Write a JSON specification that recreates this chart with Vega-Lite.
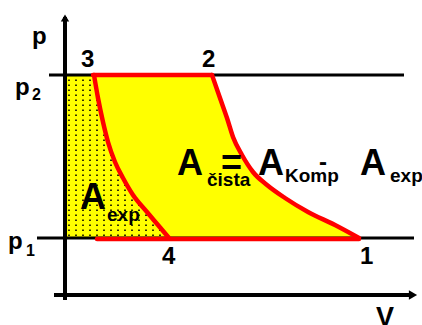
{
  "$schema": "https://vega.github.io/schema/vega-lite/v6.json",
  "width": 422,
  "height": 325,
  "padding": 0,
  "autosize": {"type": "none"},
  "background": "white",
  "config": {"view": {"stroke": null}},
  "datasets": {
    "c21": [
      {"p": 220, "V": 147},
      {"p": 197, "V": 155},
      {"p": 177, "V": 162},
      {"p": 158, "V": 168},
      {"p": 140, "V": 177},
      {"p": 123, "V": 188},
      {"p": 110, "V": 202},
      {"p": 97, "V": 220},
      {"p": 83, "V": 243},
      {"p": 70, "V": 270},
      {"p": 57, "V": 294}
    ],
    "c34": [
      {"p": 220, "V": 29},
      {"p": 197, "V": 33},
      {"p": 173, "V": 38},
      {"p": 153, "V": 43},
      {"p": 133, "V": 50},
      {"p": 117, "V": 58},
      {"p": 100, "V": 68},
      {"p": 83, "V": 82},
      {"p": 70, "V": 93},
      {"p": 57, "V": 104}
    ],
    "dots": [
      {"V": 4, "top": 218, "bottom": 59}, {"V": 11, "top": 218, "bottom": 59}, {"V": 18, "top": 218, "bottom": 59}, {"V": 25, "top": 217, "bottom": 59},
      {"V": 32, "top": 203, "bottom": 59}, {"V": 39, "top": 166, "bottom": 59}, {"V": 46, "top": 142, "bottom": 59}, {"V": 53, "top": 124, "bottom": 59},
      {"V": 60, "top": 110, "bottom": 59}, {"V": 67, "top": 99, "bottom": 59}, {"V": 74, "top": 90, "bottom": 59}, {"V": 81, "top": 81, "bottom": 59},
      {"V": 88, "top": 73, "bottom": 59}, {"V": 95, "top": 65, "bottom": 59}
    ],
    "lines": [
      {"name": "axis", "v1": 0, "v2": 0, "p1": -5, "p2": 278},
      {"name": "axis", "v1": -11, "v2": 347, "p1": 0, "p2": 0},
      {"name": "level", "v1": -16, "v2": 339, "p1": 220, "p2": 220},
      {"name": "level", "v1": -28, "v2": 349, "p1": 57, "p2": 57},
      {"name": "red", "v1": 28, "v2": 147, "p1": 220, "p2": 220},
      {"name": "red", "v1": 32, "v2": 294, "p1": 56, "p2": 56}
    ],
    "arrows": [
      {"dir": "up", "V": 0, "p": 277},
      {"dir": "right", "V": 348, "p": 0}
    ],
    "labels": [
      {"text": "p", "V": -33, "p": 251, "kind": "num"},
      {"text": "3", "V": 16, "p": 228, "kind": "num"},
      {"text": "2", "V": 137, "p": 228, "kind": "num"},
      {"text": "4", "V": 97, "p": 31, "kind": "num"},
      {"text": "1", "V": 295, "p": 31, "kind": "num"},
      {"text": "V", "V": 311, "p": -31, "kind": "v"},
      {"text": "p", "V": -50, "p": 200, "kind": "num"},
      {"text": "2", "V": -33, "p": 195, "kind": "psub"},
      {"text": "p", "V": -57, "p": 46, "kind": "num"},
      {"text": "1", "V": -39, "p": 39, "kind": "psub"},
      {"text": "A", "V": 15, "p": 86, "kind": "big"},
      {"text": "exp", "V": 42, "p": 74, "kind": "sub"},
      {"text": "A", "V": 112, "p": 120, "kind": "big"},
      {"text": "=", "V": 156, "p": 120, "kind": "big"},
      {"text": "čista", "V": 142, "p": 109, "kind": "sub"},
      {"text": "A", "V": 193, "p": 120, "kind": "big"},
      {"text": "Komp", "V": 220, "p": 113, "kind": "sub"},
      {"text": "-", "V": 254, "p": 125, "kind": "num"},
      {"text": "A", "V": 295, "p": 120, "kind": "big"},
      {"text": "exp", "V": 325, "p": 113, "kind": "sub"}
    ]
  },
  "layer": [
    {
      "data": {"name": "c21"},
      "mark": {"type": "area", "orient": "horizontal", "color": "#ffff00", "interpolate": "monotone"},
      "encoding": {
        "y": {"field": "p", "type": "quantitative", "scale": {"domain": [-30, 295], "nice": false, "zero": false}, "axis": null},
        "x": {"field": "V", "type": "quantitative", "stack": "zero", "scale": {"domain": [-65, 357], "nice": false, "zero": false}, "axis": null}
      }
    },
    {
      "data": {"name": "dots"},
      "mark": {"type": "rule", "color": "black", "strokeWidth": 1.6, "strokeDash": [1.5, 3.5]},
      "encoding": {
        "x": {"field": "V", "type": "quantitative", "scale": {"domain": [-65, 357], "nice": false, "zero": false}, "axis": null},
        "y": {"field": "bottom", "type": "quantitative", "scale": {"domain": [-30, 295], "nice": false, "zero": false}, "axis": null},
        "y2": {"field": "top"}
      }
    },
    {
      "data": {"name": "lines"},
      "transform": [{"filter": "datum.name === 'level'"}],
      "mark": {"type": "rule", "color": "black", "strokeWidth": 3},
      "encoding": {
        "x": {"field": "v1", "type": "quantitative", "scale": {"domain": [-65, 357], "nice": false, "zero": false}, "axis": null},
        "x2": {"field": "v2"},
        "y": {"field": "p1", "type": "quantitative", "scale": {"domain": [-30, 295], "nice": false, "zero": false}, "axis": null},
        "y2": {"field": "p2"}
      }
    },
    {
      "data": {"name": "lines"},
      "transform": [{"filter": "datum.name === 'axis'"}],
      "mark": {"type": "rule", "color": "black", "strokeWidth": 4},
      "encoding": {
        "x": {"field": "v1", "type": "quantitative", "scale": {"domain": [-65, 357], "nice": false, "zero": false}, "axis": null},
        "x2": {"field": "v2"},
        "y": {"field": "p1", "type": "quantitative", "scale": {"domain": [-30, 295], "nice": false, "zero": false}, "axis": null},
        "y2": {"field": "p2"}
      }
    },
    {
      "data": {"name": "arrows"},
      "transform": [{"filter": "datum.dir === 'up'"}],
      "mark": {"type": "point", "shape": "triangle-up", "filled": true, "color": "black", "size": 70, "opacity": 1},
      "encoding": {
        "x": {"field": "V", "type": "quantitative", "scale": {"domain": [-65, 357], "nice": false, "zero": false}, "axis": null},
        "y": {"field": "p", "type": "quantitative", "scale": {"domain": [-30, 295], "nice": false, "zero": false}, "axis": null}
      }
    },
    {
      "data": {"name": "arrows"},
      "transform": [{"filter": "datum.dir === 'right'"}],
      "mark": {"type": "point", "shape": "triangle-right", "filled": true, "color": "black", "size": 90, "opacity": 1},
      "encoding": {
        "x": {"field": "V", "type": "quantitative", "scale": {"domain": [-65, 357], "nice": false, "zero": false}, "axis": null},
        "y": {"field": "p", "type": "quantitative", "scale": {"domain": [-30, 295], "nice": false, "zero": false}, "axis": null}
      }
    },
    {
      "data": {"name": "lines"},
      "transform": [{"filter": "datum.name === 'red'"}],
      "mark": {"type": "rule", "color": "#ff0000", "strokeWidth": 4.5, "strokeCap": "round"},
      "encoding": {
        "x": {"field": "v1", "type": "quantitative", "scale": {"domain": [-65, 357], "nice": false, "zero": false}, "axis": null},
        "x2": {"field": "v2"},
        "y": {"field": "p1", "type": "quantitative", "scale": {"domain": [-30, 295], "nice": false, "zero": false}, "axis": null},
        "y2": {"field": "p2"}
      }
    },
    {
      "data": {"name": "c34"},
      "mark": {"type": "line", "color": "#ff0000", "strokeWidth": 4.5, "strokeCap": "round", "strokeJoin": "round", "interpolate": "monotone"},
      "encoding": {
        "x": {"field": "V", "type": "quantitative", "scale": {"domain": [-65, 357], "nice": false, "zero": false}, "axis": null},
        "y": {"field": "p", "type": "quantitative", "scale": {"domain": [-30, 295], "nice": false, "zero": false}, "axis": null},
        "order": {"field": "p"}
      }
    },
    {
      "data": {"name": "c21"},
      "mark": {"type": "line", "color": "#ff0000", "strokeWidth": 4.5, "strokeCap": "round", "strokeJoin": "round", "interpolate": "monotone"},
      "encoding": {
        "x": {"field": "V", "type": "quantitative", "scale": {"domain": [-65, 357], "nice": false, "zero": false}, "axis": null},
        "y": {"field": "p", "type": "quantitative", "scale": {"domain": [-30, 295], "nice": false, "zero": false}, "axis": null},
        "order": {"field": "p"}
      }
    },
    {
      "data": {"name": "labels"},
      "transform": [{"filter": "datum.kind === 'num'"}],
      "mark": {"type": "text", "font": "Liberation Sans", "fontWeight": "bold", "fontSize": 24, "align": "left", "baseline": "alphabetic", "color": "black"},
      "encoding": {
        "x": {"field": "V", "type": "quantitative", "scale": {"domain": [-65, 357], "nice": false, "zero": false}, "axis": null},
        "y": {"field": "p", "type": "quantitative", "scale": {"domain": [-30, 295], "nice": false, "zero": false}, "axis": null},
        "text": {"field": "text"}
      }
    },
    {
      "data": {"name": "labels"},
      "transform": [{"filter": "datum.kind === 'v'"}],
      "mark": {"type": "text", "font": "Liberation Sans", "fontWeight": "bold", "fontSize": 27, "align": "left", "baseline": "alphabetic", "color": "black"},
      "encoding": {
        "x": {"field": "V", "type": "quantitative", "scale": {"domain": [-65, 357], "nice": false, "zero": false}, "axis": null},
        "y": {"field": "p", "type": "quantitative", "scale": {"domain": [-30, 295], "nice": false, "zero": false}, "axis": null},
        "text": {"field": "text"}
      }
    },
    {
      "data": {"name": "labels"},
      "transform": [{"filter": "datum.kind === 'psub'"}],
      "mark": {"type": "text", "font": "Liberation Sans", "fontWeight": "bold", "fontSize": 16, "align": "left", "baseline": "alphabetic", "color": "black"},
      "encoding": {
        "x": {"field": "V", "type": "quantitative", "scale": {"domain": [-65, 357], "nice": false, "zero": false}, "axis": null},
        "y": {"field": "p", "type": "quantitative", "scale": {"domain": [-30, 295], "nice": false, "zero": false}, "axis": null},
        "text": {"field": "text"}
      }
    },
    {
      "data": {"name": "labels"},
      "transform": [{"filter": "datum.kind === 'big'"}],
      "mark": {"type": "text", "font": "Liberation Sans", "fontWeight": "bold", "fontSize": 36, "align": "left", "baseline": "alphabetic", "color": "black"},
      "encoding": {
        "x": {"field": "V", "type": "quantitative", "scale": {"domain": [-65, 357], "nice": false, "zero": false}, "axis": null},
        "y": {"field": "p", "type": "quantitative", "scale": {"domain": [-30, 295], "nice": false, "zero": false}, "axis": null},
        "text": {"field": "text"}
      }
    },
    {
      "data": {"name": "labels"},
      "transform": [{"filter": "datum.kind === 'sub'"}],
      "mark": {"type": "text", "font": "Liberation Sans", "fontWeight": "bold", "fontSize": 19, "align": "left", "baseline": "alphabetic", "color": "black"},
      "encoding": {
        "x": {"field": "V", "type": "quantitative", "scale": {"domain": [-65, 357], "nice": false, "zero": false}, "axis": null},
        "y": {"field": "p", "type": "quantitative", "scale": {"domain": [-30, 295], "nice": false, "zero": false}, "axis": null},
        "text": {"field": "text"}
      }
    }
  ]
}
